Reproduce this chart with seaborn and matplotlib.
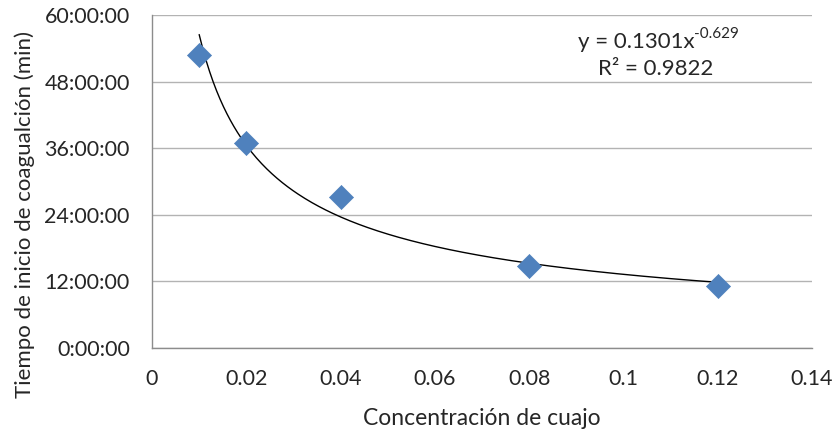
import numpy as np
import pandas as pd
import matplotlib
matplotlib.use("Agg")
import matplotlib.pyplot as plt
from matplotlib.ticker import FuncFormatter, MultipleLocator
import seaborn as sns

# Rennet concentration vs. time to onset of coagulation (hours)
concentracion = [0.01, 0.02, 0.04, 0.08, 0.12]
tiempo_horas = [52.87, 36.94, 27.30, 14.85, 11.24]

# Power trendline, coefficient in days (spreadsheet time units)
coef_a = 0.1301
coef_b = -0.629
r2 = 0.9822

sns.set_style("white")
plt.rcParams["font.family"] = ["Lato", "DejaVu Sans"]

fig = plt.figure(figsize=(8.34, 4.34), dpi=100)
ax = fig.add_axes([0.1823, 0.1982, 0.7913, 0.7661])

df = pd.DataFrame({"x": concentracion, "y": tiempo_horas})

x_fit = np.linspace(min(concentracion), max(concentracion), 300)
y_fit = coef_a * x_fit ** coef_b * 24.0
sns.lineplot(x=x_fit, y=y_fit, ax=ax, color="black", linewidth=1.0, zorder=2)

sns.scatterplot(data=df, x="x", y="y", ax=ax, marker="D", s=150,
                color="#4F81BD", edgecolor="#4F81BD", linewidth=0.5, zorder=3)

ax.set_xlim(0, 0.14)
ax.set_ylim(0, 60)
ax.xaxis.set_major_locator(MultipleLocator(0.02))
ax.yaxis.set_major_locator(MultipleLocator(12))
ax.xaxis.set_major_formatter(FuncFormatter(lambda v, p: "0" if abs(v) < 1e-9 else f"{v:.2f}".rstrip("0")))
ax.yaxis.set_major_formatter(FuncFormatter(lambda v, p: f"{int(round(v))}:00:00"))

ax.grid(axis="y", color="#B3B3B3", linewidth=1.0)
ax.set_axisbelow(True)
for side in ["top", "right"]:
    ax.spines[side].set_visible(False)
for side in ["left", "bottom"]:
    ax.spines[side].set_color("#8C8C8C")
    ax.spines[side].set_linewidth(1.0)

ax.tick_params(axis="both", labelsize=15.5, colors="#262626", length=0)
ax.tick_params(axis="y", pad=16)
ax.tick_params(axis="x", pad=15)

ax.set_xlabel("Concentración de cuajo", fontsize=16.5, color="#262626", labelpad=14)
ax.set_ylabel("Tiempo de inicio de coagualción (min)", fontsize=16, color="#262626")
ax.yaxis.set_label_coords(-0.177, 0.40)

# Trendline equation: base text plus raised exponent
ax.text(0.1150, 55.3, f"y = {coef_a}x", fontsize=16, color="#262626", ha="right", va="center")
ax.text(0.1150, 56.6, f"{coef_b}", fontsize=11, color="#262626", ha="left", va="center")
ax.text(0.1068, 50.4, f"R² = {r2}", fontsize=16, color="#262626", ha="center", va="center")

fig.savefig("out.png", dpi=100)
